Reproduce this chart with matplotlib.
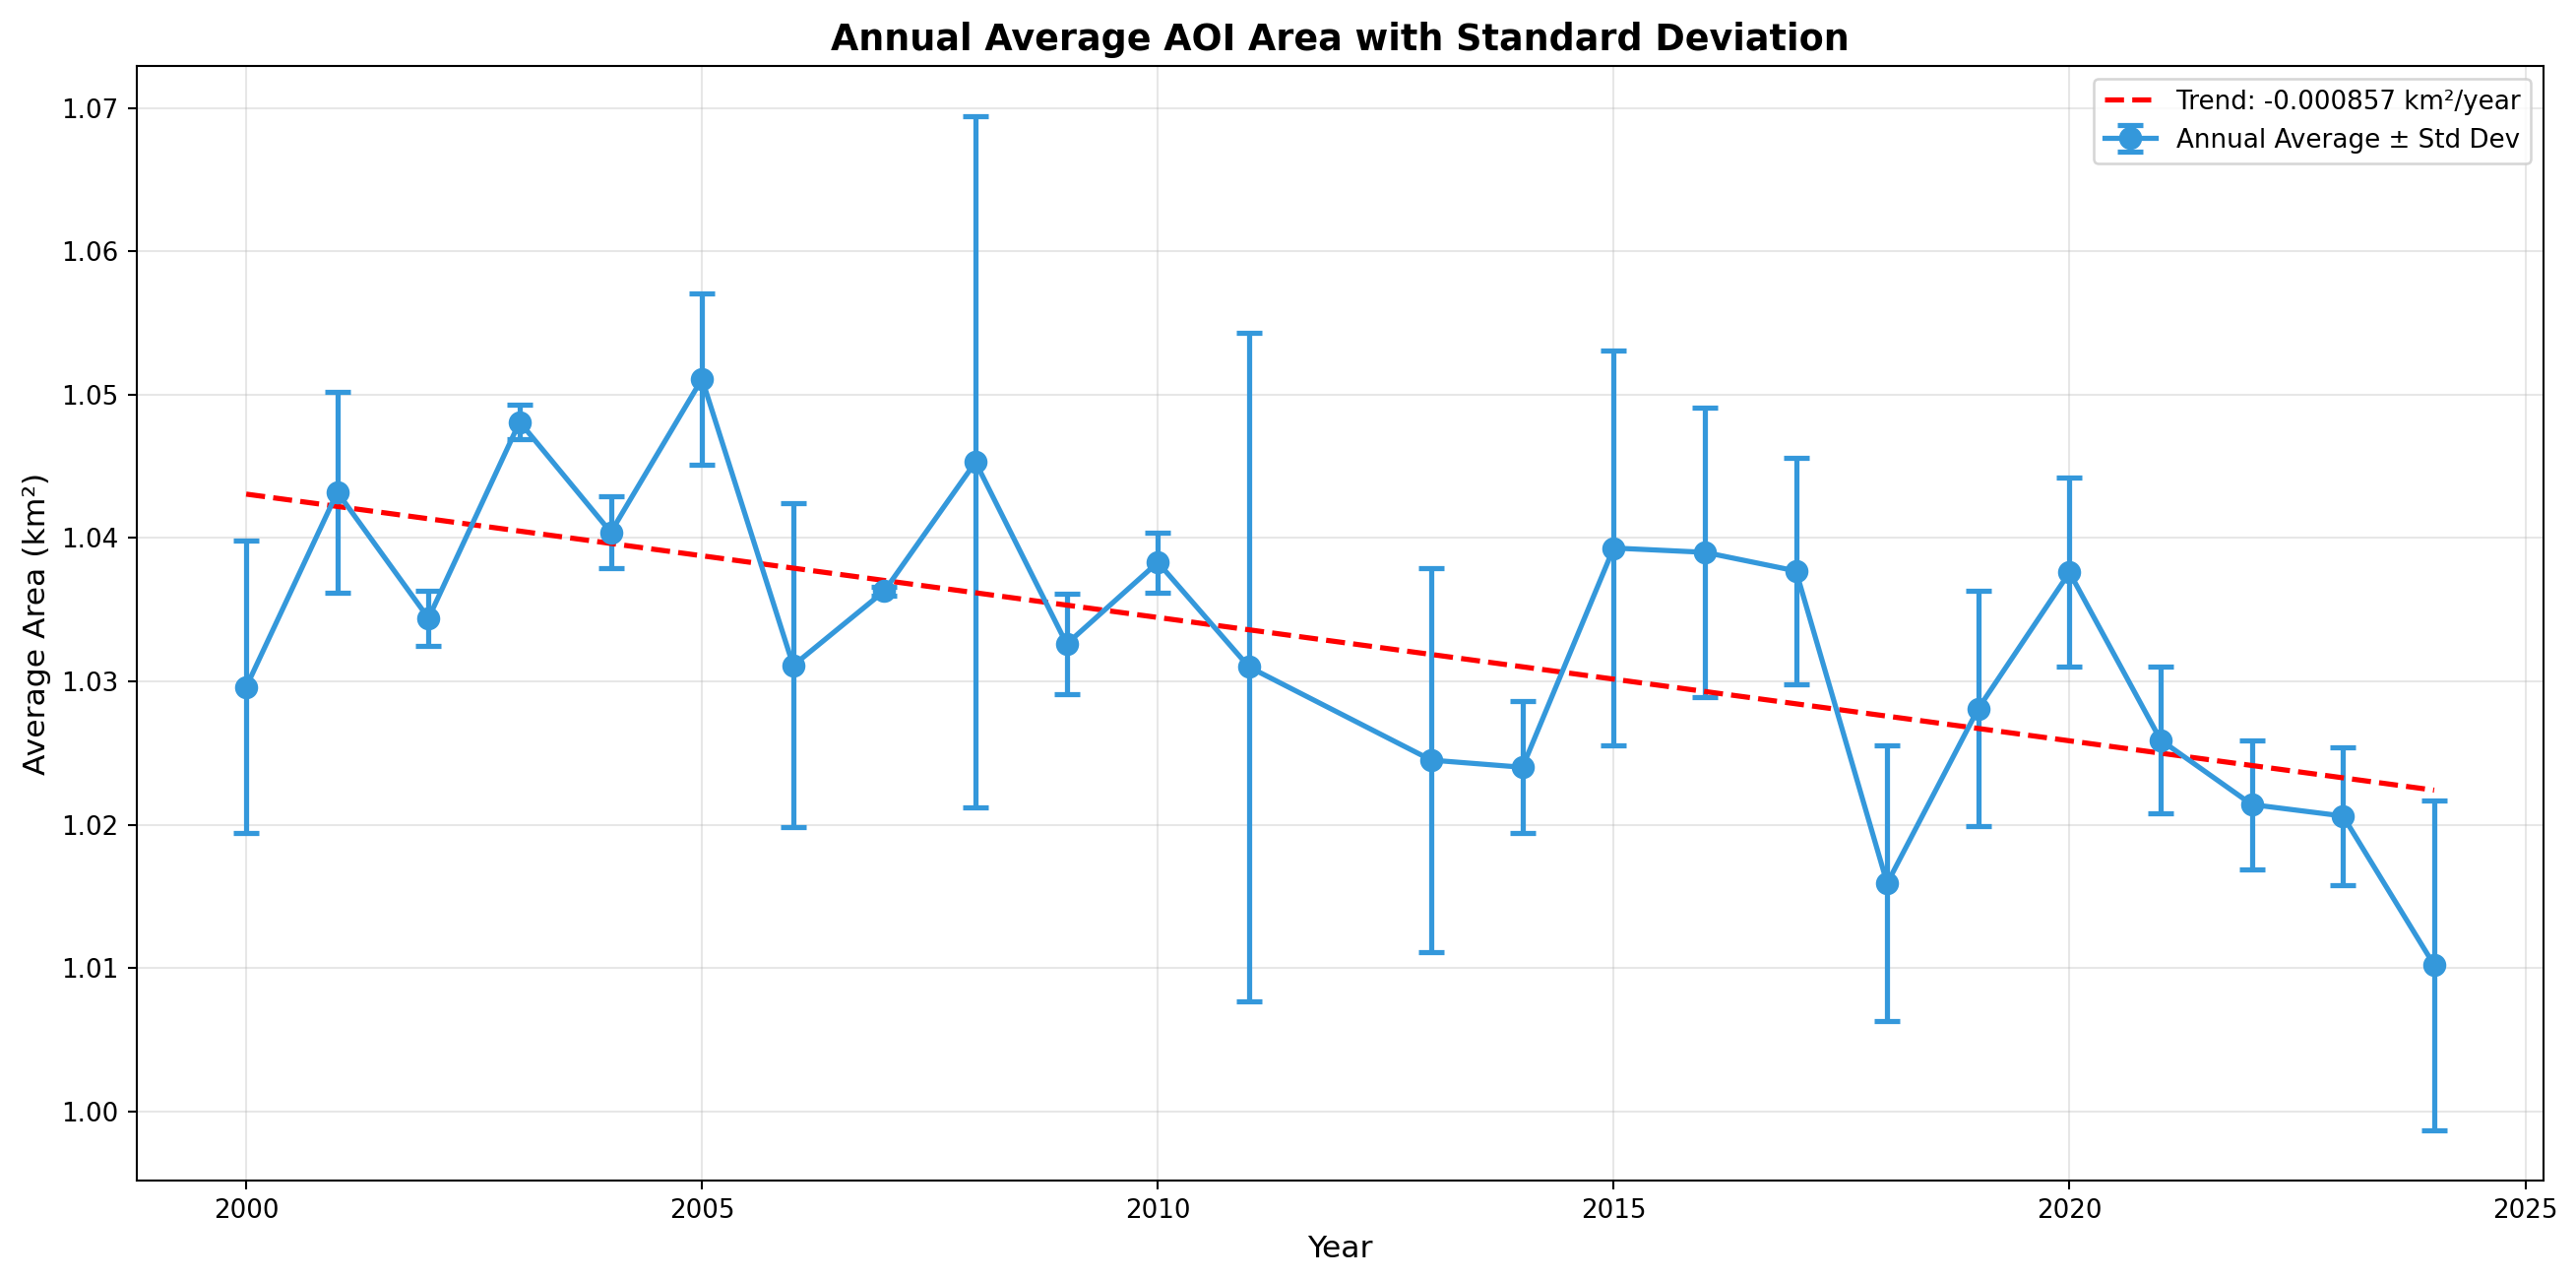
import numpy as np
import matplotlib
matplotlib.use("Agg")
import matplotlib.pyplot as plt

years = [2000, 2001, 2002, 2003, 2004, 2005, 2006, 2007, 2008, 2009, 2010, 2011,
         2013, 2014, 2015, 2016, 2017, 2018, 2019, 2020, 2021, 2022, 2023, 2024]
mean_area = [1.0296, 1.0432, 1.0344, 1.0481, 1.0404, 1.0511, 1.0311, 1.0363,
             1.0453, 1.0326, 1.0383, 1.0310, 1.0245, 1.0240, 1.0393, 1.0390,
             1.0377, 1.0159, 1.0281, 1.0376, 1.0259, 1.0214, 1.0206, 1.0102]
std_area = [0.0102, 0.0070, 0.0019, 0.0012, 0.0025, 0.0060, 0.0113, 0.0003,
            0.0241, 0.0035, 0.0021, 0.0233, 0.0134, 0.0046, 0.0138, 0.0101,
            0.0079, 0.0096, 0.0082, 0.0066, 0.0051, 0.0045, 0.0048, 0.0115]
trend_label = "Trend: -0.000857 km²/year"

DPI = 188
fig, ax = plt.subplots(figsize=(2617 / DPI, 1299 / DPI), dpi=DPI)
fig.subplots_adjust(left=0.0531, right=0.9874, bottom=0.0770, top=0.9484)

x = np.array(years)
y = np.array(mean_area)
ax.errorbar(x, y, yerr=std_area, fmt='o-', color='#3498db', linewidth=2,
            markersize=8, capsize=5, capthick=2, label='Annual Average ± Std Dev')

coef = np.polyfit(x, y, 1)
ax.plot(x, np.polyval(coef, x), 'r--', linewidth=2, label=trend_label)

ax.set_title('Annual Average AOI Area with Standard Deviation', fontsize=14, fontweight='bold')
ax.set_xlabel('Year', fontsize=12)
ax.set_ylabel('Average Area (km²)', fontsize=12)
ax.grid(True, alpha=0.3)
ax.legend(loc='upper right')

fig.savefig('out.png', dpi=DPI)
